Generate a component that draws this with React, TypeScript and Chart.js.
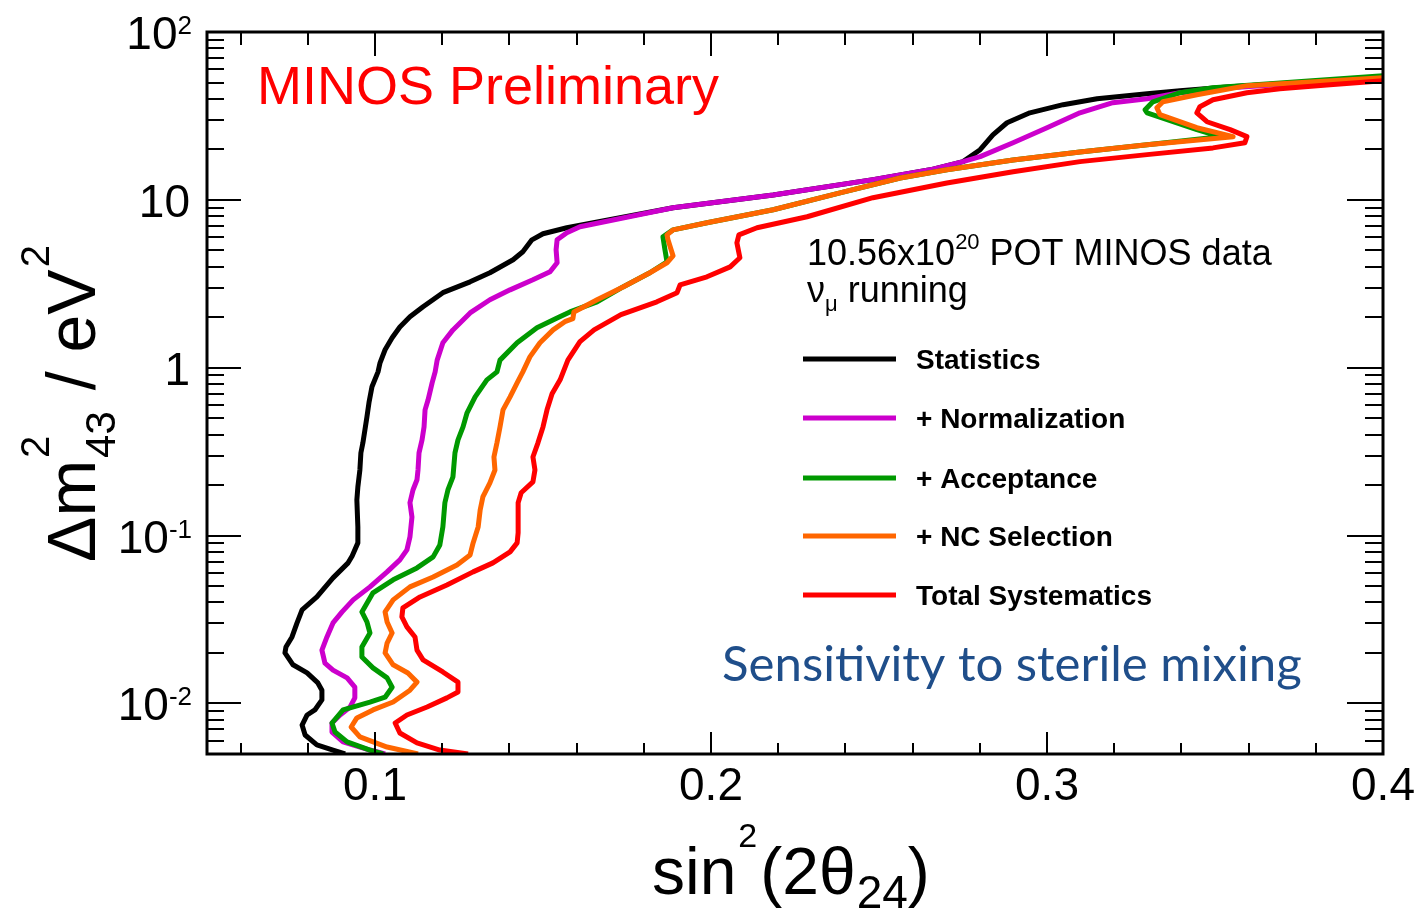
import { useEffect, useRef } from 'react';
import { Chart, registerables } from 'chart.js';

Chart.register(...registerables);

const SANS = '"Liberation Sans", Arial, Helvetica, sans-serif';

// ---- data: [sin^2(2theta24), dm^2_43 (eV^2)] along each contour ----
const statistics: [number, number][] = [
  [0.0911, 0.005], [0.0875, 0.00528], [0.0827, 0.00566], [0.0792, 0.00649], [0.0783, 0.00744],
  [0.0798, 0.00854], [0.0821, 0.00915], [0.0842, 0.0105], [0.0842, 0.012], [0.083, 0.01325],
  [0.0798, 0.0152], [0.0756, 0.017], [0.0732, 0.02], [0.0735, 0.0217], [0.0753, 0.0249],
  [0.0768, 0.0302], [0.0783, 0.0361], [0.0827, 0.0431], [0.0875, 0.056], [0.092, 0.0688],
  [0.0932, 0.0757], [0.0949, 0.0905], [0.0949, 0.1127], [0.0946, 0.163], [0.0949, 0.195],
  [0.0955, 0.246], [0.0958, 0.311], [0.0964, 0.357], [0.097, 0.427], [0.0976, 0.51],
  [0.0982, 0.618], [0.0991, 0.77], [0.1009, 0.945], [0.1015, 1.07], [0.103, 1.28],
  [0.1051, 1.51], [0.1074, 1.75], [0.1104, 2.01], [0.1143, 2.31], [0.1202, 2.8],
  [0.1283, 3.25], [0.1342, 3.68], [0.1411, 4.4], [0.144, 4.91], [0.1467, 5.78],
  [0.15, 6.28], [0.1571, 6.82], [0.1887, 8.97], [0.2185, 10.7], [0.2482, 13.2],
  [0.2652, 15.1], [0.275, 16.9], [0.2801, 19.9], [0.2839, 24.4], [0.2881, 28.8],
  [0.2949, 33.0], [0.3048, 36.9], [0.3149, 40.0], [0.3298, 42.9], [0.3396, 44.7],
  [0.3545, 47.2], [0.4, 53.4],
];

const normalization: [number, number][] = [
  [0.103, 0.005], [0.0985, 0.00528], [0.0905, 0.0059], [0.0872, 0.00676], [0.0872, 0.00765],
  [0.0896, 0.00854], [0.0926, 0.00953], [0.094, 0.0108], [0.094, 0.0125], [0.0917, 0.0142],
  [0.0875, 0.0158], [0.0851, 0.0174], [0.0842, 0.0208], [0.0857, 0.0249], [0.0875, 0.0302],
  [0.0902, 0.0351], [0.0935, 0.0414], [0.0985, 0.0495], [0.1036, 0.0608], [0.1074, 0.0717],
  [0.1095, 0.0822], [0.1104, 0.0982], [0.111, 0.129], [0.1104, 0.157], [0.1113, 0.187],
  [0.1125, 0.215], [0.1128, 0.246], [0.1131, 0.311], [0.114, 0.372], [0.1146, 0.444],
  [0.1149, 0.561], [0.1158, 0.644], [0.117, 0.813], [0.1179, 0.945], [0.1185, 1.11],
  [0.1202, 1.41], [0.1232, 1.68], [0.1283, 2.12], [0.1342, 2.54], [0.1402, 2.91],
  [0.147, 3.34], [0.1521, 3.73], [0.1542, 4.22], [0.1539, 5.04], [0.1542, 5.78],
  [0.1571, 6.37], [0.161, 6.91], [0.1887, 8.97], [0.2185, 10.7], [0.2482, 13.2],
  [0.2652, 15.1], [0.275, 16.9], [0.2801, 18.1], [0.2899, 21.9], [0.3, 26.9],
  [0.3098, 33.0], [0.3196, 37.9], [0.3298, 40.0], [0.3396, 43.5], [0.3545, 46.6],
  [0.4, 53.4],
];

const acceptance: [number, number][] = [
  [0.1024, 0.005], [0.0985, 0.00528], [0.0917, 0.0059], [0.0881, 0.00676], [0.0872, 0.00765],
  [0.0905, 0.00915], [0.0985, 0.0102], [0.103, 0.0109], [0.1051, 0.0125], [0.1036, 0.0142],
  [0.0994, 0.0163], [0.0961, 0.0189], [0.0961, 0.0217], [0.0985, 0.0263], [0.0976, 0.0306],
  [0.0961, 0.0351], [0.0994, 0.0456], [0.1054, 0.0545], [0.1125, 0.0642], [0.1173, 0.0747],
  [0.1193, 0.088], [0.1202, 0.1127], [0.1208, 0.157], [0.1217, 0.187], [0.1232, 0.224],
  [0.1238, 0.311], [0.1247, 0.372], [0.1262, 0.444], [0.1274, 0.539], [0.1298, 0.671],
  [0.1333, 0.847], [0.1363, 0.945], [0.1372, 1.11], [0.1423, 1.41], [0.1482, 1.73],
  [0.1542, 1.98], [0.158, 2.15], [0.1661, 2.47], [0.1738, 3.03], [0.1818, 3.68],
  [0.1869, 4.28], [0.1863, 5.04], [0.1857, 6.03], [0.1887, 6.63], [0.1988, 7.3],
  [0.2185, 8.73], [0.2384, 11.0], [0.2563, 13.5], [0.2702, 15.1], [0.2899, 17.3],
  [0.3098, 19.3], [0.3298, 21.3], [0.3515, 23.8], [0.3446, 26.2], [0.3298, 33.0],
  [0.3292, 34.4], [0.3315, 38.4], [0.3396, 43.5], [0.3494, 46.6], [0.4, 54.9],
];

const ncSelection: [number, number][] = [
  [0.1128, 0.005], [0.1036, 0.0055], [0.0955, 0.00632], [0.0929, 0.00724], [0.0946, 0.0082],
  [0.0994, 0.00915], [0.1054, 0.0102], [0.1104, 0.012], [0.1125, 0.0134], [0.1098, 0.0152],
  [0.1054, 0.017], [0.103, 0.02], [0.1036, 0.0229], [0.1051, 0.0263], [0.1036, 0.0306],
  [0.103, 0.0351], [0.1054, 0.0414], [0.1104, 0.0495], [0.1173, 0.0567], [0.1244, 0.0669],
  [0.1283, 0.0767], [0.1292, 0.0905], [0.1307, 0.1127], [0.1313, 0.142], [0.1321, 0.17],
  [0.1342, 0.206], [0.1357, 0.246], [0.1354, 0.294], [0.1363, 0.357], [0.1372, 0.444],
  [0.1381, 0.561], [0.1402, 0.671], [0.1423, 0.813], [0.144, 0.945], [0.1461, 1.16],
  [0.1491, 1.41], [0.153, 1.68], [0.1565, 1.88], [0.1589, 1.96], [0.1592, 2.15],
  [0.1661, 2.54], [0.1738, 3.03], [0.1818, 3.68], [0.1869, 4.22], [0.1887, 4.64],
  [0.1872, 5.78], [0.1869, 6.19], [0.1887, 6.63], [0.1988, 7.3], [0.2185, 8.73],
  [0.2384, 11.0], [0.2563, 13.5], [0.2702, 15.1], [0.2899, 17.3], [0.3098, 19.3],
  [0.3298, 21.3], [0.3554, 23.8], [0.3446, 26.9], [0.3336, 32.2], [0.3327, 35.4],
  [0.3345, 38.4], [0.3446, 42.3], [0.3595, 47.9], [0.4, 53.4],
];

const totalSystematics: [number, number][] = [
  [0.1277, 0.005], [0.1193, 0.00528], [0.1125, 0.00582], [0.1074, 0.00667], [0.106, 0.00765],
  [0.1095, 0.00854], [0.1155, 0.00953], [0.1214, 0.0108], [0.1247, 0.0117], [0.1247, 0.0134],
  [0.1202, 0.0154], [0.1143, 0.0182], [0.1125, 0.0208], [0.1119, 0.0249], [0.1095, 0.0286],
  [0.108, 0.0328], [0.1083, 0.0371], [0.1134, 0.0431], [0.1214, 0.0508], [0.1292, 0.0608],
  [0.1351, 0.0688], [0.1402, 0.08], [0.1423, 0.0905], [0.1426, 0.104], [0.1426, 0.157],
  [0.1435, 0.18], [0.147, 0.209], [0.1476, 0.246], [0.147, 0.294], [0.1485, 0.357],
  [0.15, 0.444], [0.1512, 0.561], [0.1527, 0.699], [0.1551, 0.847], [0.1574, 1.11],
  [0.161, 1.43], [0.1652, 1.68], [0.1732, 2.07], [0.1839, 2.47], [0.1899, 2.8],
  [0.1908, 3.12], [0.1988, 3.48], [0.2057, 3.99], [0.2086, 4.52], [0.2077, 5.55],
  [0.2083, 6.19], [0.2137, 6.82], [0.2286, 7.93], [0.2482, 10.3], [0.2702, 12.6],
  [0.2899, 14.7], [0.3098, 16.9], [0.3298, 18.6], [0.3494, 20.4], [0.3589, 21.9],
  [0.3595, 23.8], [0.3545, 26.2], [0.3476, 29.2], [0.3446, 33.0], [0.3455, 35.9],
  [0.3494, 39.5], [0.3595, 43.5], [0.3693, 45.9], [0.3842, 48.5], [0.4, 51.3],
];

const seriesData = [statistics, normalization, acceptance, ncSelection, totalSystematics];
const seriesNames = ['Statistics', '+ Normalization', '+ Acceptance', '+ NC Selection', 'Total Systematics'];
const seriesColors = ['#000000', '#cc00cc', '#009900', '#ff6600', '#ff0000'];

// ---- axes ----
const xRange = [0.05, 0.4];
const yRange = [0.005, 100];
const xMajorTicks = [0.1, 0.2, 0.3, 0.4];
const xTickLabels = ['0.1', '0.2', '0.3', '0.4'];
const xMinorTicks = [0.06, 0.08, 0.12, 0.14, 0.16, 0.18, 0.22, 0.24, 0.26, 0.28, 0.32, 0.34, 0.36, 0.38];
const yMajorTicks = [0.01, 0.1, 1, 10, 100];
const yTickBases = ['10', '10', '1', '10', '10'];
const yTickExps = ['-2', '-1', '', '', '2'];
const yMinorTicks = [
  0.006, 0.007, 0.008, 0.009,
  0.02, 0.03, 0.04, 0.05, 0.06, 0.07, 0.08, 0.09,
  0.2, 0.3, 0.4, 0.5, 0.6, 0.7, 0.8, 0.9,
  2, 3, 4, 5, 6, 7, 8, 9,
  20, 30, 40, 50, 60, 70, 80, 90,
];

type Run = { t: string; size: number; dy?: number; bold?: boolean; family?: string };

function drawRuns(ctx: CanvasRenderingContext2D, x: number, y: number, runs: Run[], color: string) {
  let cx = x;
  ctx.fillStyle = color;
  ctx.textAlign = 'left';
  ctx.textBaseline = 'alphabetic';
  for (const r of runs) {
    ctx.font = `${r.bold ? 'bold ' : ''}${r.size}px ${r.family || SANS}`;
    ctx.fillText(r.t, cx, y + (r.dy || 0));
    cx += ctx.measureText(r.t).width;
  }
  return cx;
}

const decor = {
  id: 'decor',
  afterDraw(chart: any) {
    const { ctx, chartArea: a, scales } = chart;
    const xs = scales.x;
    const ys = scales.y;
    ctx.save();

    // ticks (inward, all four sides)
    ctx.strokeStyle = '#000';
    ctx.lineWidth = 2;
    ctx.beginPath();
    const xt = (v: number, lb: number, lt: number) => {
      const p = Math.round(xs.getPixelForValue(v));
      ctx.moveTo(p, a.bottom); ctx.lineTo(p, a.bottom - lb);
      ctx.moveTo(p, a.top); ctx.lineTo(p, a.top + lt);
    };
    xMajorTicks.forEach((v) => xt(v, 22, 24));
    xMinorTicks.forEach((v) => xt(v, 11, 13));
    const yt = (v: number, ll: number, lr: number) => {
      const p = Math.round(ys.getPixelForValue(v));
      ctx.moveTo(a.left, p); ctx.lineTo(a.left + ll, p);
      ctx.moveTo(a.right, p); ctx.lineTo(a.right - lr, p);
    };
    yMajorTicks.forEach((v) => yt(v, 34, 36));
    yMinorTicks.forEach((v) => yt(v, 17, 18));
    ctx.stroke();

    // frame
    ctx.lineWidth = 3;
    ctx.strokeRect(a.left, a.top, a.right - a.left, a.bottom - a.top);

    // x tick labels
    ctx.fillStyle = '#000';
    ctx.font = `46px ${SANS}`;
    ctx.textAlign = 'center';
    ctx.textBaseline = 'alphabetic';
    xMajorTicks.forEach((v, i) => {
      ctx.fillText(xTickLabels[i], xs.getPixelForValue(v), a.bottom + 46);
    });

    // y tick labels
    yMajorTicks.forEach((v, i) => {
      const py = ys.getPixelForValue(v);
      const base = yTickBases[i];
      const exp = yTickExps[i];
      const right = a.left - 15;
      let expW = 0;
      if (exp) {
        ctx.font = `26px ${SANS}`;
        expW = ctx.measureText(exp).width;
      }
      ctx.font = `46px ${SANS}`;
      ctx.textAlign = 'right';
      ctx.fillText(base, exp ? right - expW : right - 2, py + 17);
      if (exp) {
        ctx.font = `26px ${SANS}`;
        ctx.textAlign = 'left';
        ctx.fillText(exp, right - expW, py + 2);
      }
    });

    // x axis title: sin^2(2θ_24)
    {
      let cx = drawRuns(ctx, 652, 894, [
        { t: 'sin', size: 66 },
      ], '#000');
      cx = drawRuns(ctx, cx + 2, 894, [{ t: '2', size: 34, dy: -47 }], '#000');
      cx = drawRuns(ctx, cx + 3, 894, [{ t: '(2θ', size: 66 }], '#000');
      cx = drawRuns(ctx, cx + 1, 894, [{ t: '24', size: 46, dy: 14 }], '#000');
      drawRuns(ctx, cx, 894, [{ t: ')', size: 66 }], '#000');
    }

    // y axis title: Δm^2_43 / eV^2 (rotated)
    ctx.save();
    ctx.translate(95, 562);
    ctx.rotate(-Math.PI / 2);
    let cx = drawRuns(ctx, 0, 0, [{ t: 'Δm', size: 68 }], '#000');
    ctx.font = `40px ${SANS}`;
    const supW = ctx.measureText('2').width;
    ctx.fillText('2', cx + 2, -46);
    ctx.font = `42px ${SANS}`;
    const subW = ctx.measureText('43').width;
    ctx.fillText('43', cx + 2, 20);
    cx += Math.max(supW, subW) + 4;
    cx = drawRuns(ctx, cx, 0, [{ t: ' / eV', size: 68 }], '#000');
    drawRuns(ctx, cx + 2, 0, [{ t: '2', size: 40, dy: -46 }], '#000');
    ctx.restore();

    // MINOS Preliminary
    drawRuns(ctx, 257, 104, [{ t: 'MINOS Preliminary', size: 54 }], '#ff0000');

    // exposure text
    drawRuns(ctx, 807, 265, [
      { t: '10.56x10', size: 36 },
      { t: '20', size: 22, dy: -16 },
      { t: ' POT MINOS data', size: 36 },
    ], '#000');
    drawRuns(ctx, 807, 302, [
      { t: 'ν', size: 36 },
      { t: 'μ', size: 22, dy: 9 },
      { t: ' running', size: 36 },
    ], '#000');

    // legend
    const legendY = [359, 418, 478, 536, 595];
    seriesNames.forEach((name, i) => {
      ctx.strokeStyle = seriesColors[i];
      ctx.lineWidth = 5;
      ctx.beginPath();
      ctx.moveTo(803, legendY[i]);
      ctx.lineTo(896, legendY[i]);
      ctx.stroke();
      drawRuns(ctx, 916, legendY[i] + 10, [{ t: name, size: 28, bold: true }], '#000');
    });

    // Sensitivity text (fit to width)
    {
      const fam = 'Lato, "Open Sans", sans-serif';
      const txt = 'Sensitivity to sterile mixing';
      ctx.font = `48px ${fam}`;
      const w = ctx.measureText(txt).width;
      const size = 48 * 580 / w;
      drawRuns(ctx, 722, 681, [{ t: txt, size, family: fam }], '#1f4e8a');
    }

    ctx.restore();
  },
};

export default function App() {
  const ref = useRef<HTMLCanvasElement>(null);
  useEffect(() => {
    const chart = new Chart(ref.current as HTMLCanvasElement, {
      type: 'line',
      data: {
        datasets: seriesData.map((pts, i) => ({
          label: seriesNames[i],
          data: pts.map(([x, y]) => ({ x, y })),
          borderColor: seriesColors[i],
          backgroundColor: seriesColors[i],
          borderWidth: 5,
          borderJoinStyle: 'round' as const,
          pointRadius: 0,
          tension: 0,
          fill: false,
          order: seriesData.length - 1 - i,
        })),
      },
      options: {
        responsive: false,
        animation: false,
        devicePixelRatio: 1,
        events: [],
        layout: { padding: { left: 207, right: 32, top: 32, bottom: 160 } },
        plugins: { legend: { display: false }, tooltip: { enabled: false }, title: { display: false } },
        scales: {
          x: { type: 'linear', min: xRange[0], max: xRange[1], display: false },
          y: { type: 'logarithmic', min: yRange[0], max: yRange[1], display: false },
        },
      },
      plugins: [decor],
    } as any);
    return () => chart.destroy();
  }, []);
  return (
    <div style={{ position: 'fixed', left: 0, top: 0, width: 1415, height: 914, background: '#fff' }}>
      <canvas ref={ref} width={1415} height={914} style={{ display: 'block' }} />
    </div>
  );
}
